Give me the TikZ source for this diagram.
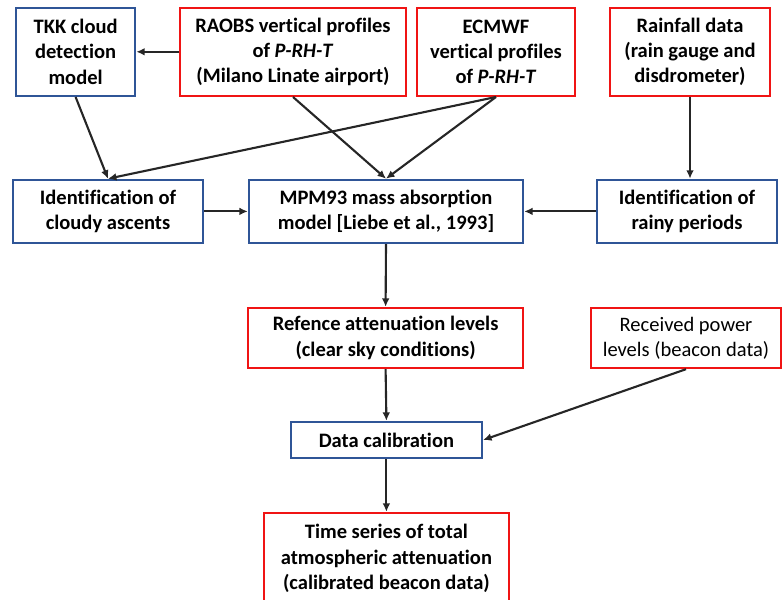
\documentclass[tikz,border=0pt]{standalone}
\usepackage{fontspec}
\setmainfont[Ligatures=NoCommon]{Carlito}
\definecolor{boxblue}{RGB}{47,85,151}
\definecolor{boxred}{RGB}{240,20,20}
\usetikzlibrary{arrows.meta,positioning}
\tikzset{
  flowbox/.style={draw, line width=1.7pt, fill=white, inner sep=0pt, align=center,
    font=\fontsize{14.6}{18}\selectfont\bfseries},
  bluebox/.style={flowbox, draw=boxblue},
  redbox/.style={flowbox, draw=boxred},
  flowarrow/.style={-{Latex[length=6pt,width=5.5pt]}, line width=1.5pt, black!85}
}
\begin{document}
\begin{tikzpicture}
  \useasboundingbox (0,0) rectangle (19.55,14.975);

  % Input data (top row)
  \node[bluebox, minimum width=2.975cm, minimum height=2.2cm] (tkk) at (1.89,13.68) {TKK cloud\\detection\\model};
  \node[redbox, minimum width=5.65cm, minimum height=2.2cm] (raobs) at (7.325,13.68) {RAOBS vertical profiles\\of \textit{P-RH-T}\\(Milano Linate airport)};
  \node[redbox, minimum width=3.95cm, minimum height=2.2cm] (ecmwf) at (12.4,13.68) {ECMWF\\vertical profiles\\of \textit{P-RH-T}};
  \node[redbox, minimum width=4.0cm, minimum height=2.2cm] (rain) at (17.25,13.68) {Rainfall data\\(rain gauge and\\disdrometer)};

  % Processing (middle row)
  \node[bluebox, minimum width=4.75cm, minimum height=1.575cm] (cloudy) at (2.7,9.69) {Identification of\\cloudy ascents};
  \node[bluebox, minimum width=6.85cm, minimum height=1.575cm] (mpm) at (9.65,9.69) {MPM93 mass absorption\\model [Liebe et al., 1993]};
  \node[bluebox, minimum width=4.5cm, minimum height=1.575cm] (rainy) at (17.175,9.69) {Identification of\\rainy periods};

  % Reference levels and beacon data
  \node[redbox, minimum width=6.875cm, minimum height=1.5cm] (ref) at (9.64,6.525) {Refence attenuation levels\\(clear sky conditions)};
  \node[redbox, minimum width=4.75cm, minimum height=1.5cm, font=\fontsize{14.6}{18}\selectfont] (recv) at (17.15,6.525) {Received power\\levels (beacon data)};

  % Calibration and output
  \node[bluebox, minimum width=4.775cm, minimum height=0.9cm] (calib) at (9.66,3.975) {Data calibration};
  \node[redbox, minimum width=6.125cm, minimum height=2.275cm] (series) at (9.66,1.0125) {Time series of total\\atmospheric attenuation\\(calibrated beacon data)};

  % Arrows
  \draw[flowarrow] (raobs.west) -- (tkk.east);
  \draw[flowarrow] (tkk.south) -- (cloudy.north);
  \draw[flowarrow] (ecmwf.south) -- (cloudy.north);
  \draw[flowarrow] (raobs.south) -- (mpm.north);
  \draw[flowarrow] (ecmwf.south) -- (mpm.north);
  \draw[flowarrow] (rain.south) -- (rain.south |- rainy.north);
  \draw[flowarrow] (cloudy.east) -- (mpm.west);
  \draw[flowarrow] (rainy.west) -- (mpm.east);
  \draw[flowarrow] (mpm.south) -- (ref.north);
  \draw[flowarrow] (ref.south) -- (calib.north);
  \draw[flowarrow] (recv.south) -- (calib.east);
  \draw[flowarrow] (calib.south) -- (series.north);
\end{tikzpicture}
\end{document}
